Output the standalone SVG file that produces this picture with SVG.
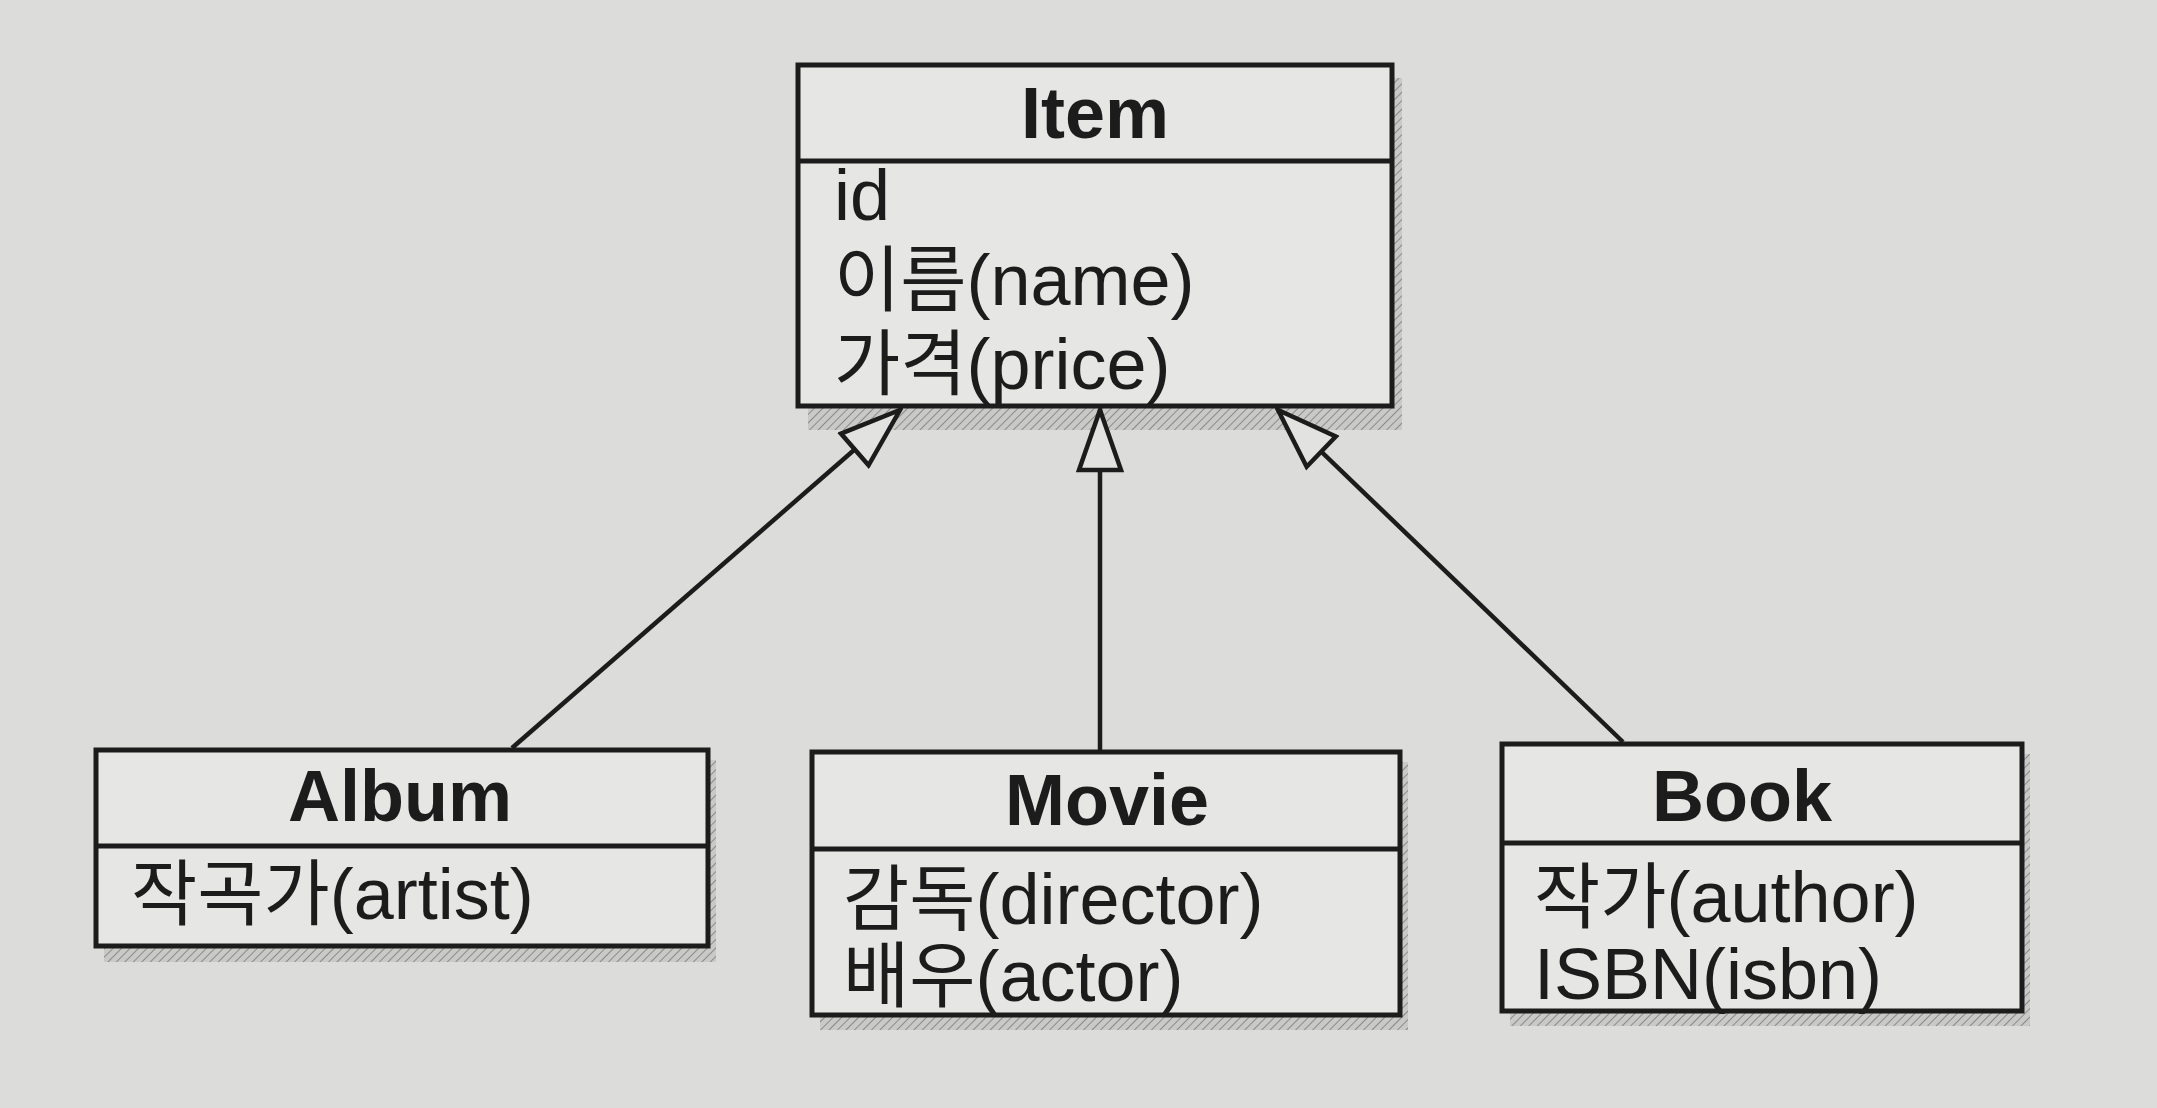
<svg xmlns="http://www.w3.org/2000/svg" width="2157" height="1108" viewBox="0 0 2157 1108">
<style>
.box{fill:#e6e6e4;stroke:#1c1c1c;stroke-width:5}
.div{stroke:#1c1c1c;stroke-width:5}
.shadow{fill:url(#hatch)}
.title{font-family:"Liberation Sans","Noto Sans CJK KR",sans-serif;font-weight:bold;font-size:72px;fill:#1c1c1c;text-anchor:middle}
.attr{font-family:"Liberation Sans","Noto Sans CJK KR",sans-serif;font-size:72px;fill:#1c1c1c}
.conn{stroke:#1c1c1c;stroke-width:4.5;fill:none;marker-end:url(#tri)}
</style>
<defs>
<pattern id="hatch" width="6" height="6" patternUnits="userSpaceOnUse" patternTransform="rotate(45)">
<rect width="6" height="6" fill="#c9c9c7"/>
<line x1="0" y1="0" x2="0" y2="6" stroke="#8a8a88" stroke-width="2"/>
</pattern>
<marker id="tri" viewBox="-3 -3 66 48" refX="60" refY="21" markerWidth="66" markerHeight="48" markerUnits="userSpaceOnUse" orient="auto">
<path d="M0,0 L60,21 L0,42 Z" fill="#e2e2e0" stroke="#1c1c1c" stroke-width="4.5" stroke-linejoin="miter"/>
</marker>
</defs>
<rect width="2157" height="1108" fill="#dcdcda"/>
<g id="item">
<rect class="shadow" x="808" y="78" width="594" height="352"/>
<rect class="box" x="798" y="65" width="594" height="341"/>
<line class="div" x1="798" y1="161" x2="1392" y2="161"/>
<text class="title" x="1095" y="138">Item</text>
<text class="attr" x="834" y="220">id</text>
<text class="attr" x="834" y="305">이름(name)</text>
<text class="attr" x="834" y="389">가격(price)</text>
</g>
<g id="album">
<rect class="shadow" x="104" y="760" width="612" height="202"/>
<rect class="box" x="96" y="750" width="612" height="196"/>
<line class="div" x1="96" y1="846" x2="708" y2="846"/>
<text class="title" x="400" y="821">Album</text>
<text class="attr" x="131" y="919">작곡가(artist)</text>
</g>
<g id="movie">
<rect class="shadow" x="820" y="762" width="588" height="268"/>
<rect class="box" x="812" y="752" width="588" height="263"/>
<line class="div" x1="812" y1="849" x2="1400" y2="849"/>
<text class="title" x="1107" y="825">Movie</text>
<text class="attr" x="843" y="924">감독(director)</text>
<text class="attr" x="843" y="1001">배우(actor)</text>
</g>
<g id="book">
<rect class="shadow" x="1510" y="754" width="520" height="272"/>
<rect class="box" x="1502" y="744" width="520" height="267"/>
<line class="div" x1="1502" y1="843" x2="2022" y2="843"/>
<text class="title" x="1742" y="821">Book</text>
<text class="attr" x="1534" y="922">작가(author)</text>
<text class="attr" x="1534" y="999">ISBN(isbn)</text>
</g>
<g id="connectors">
<line class="conn" x1="512" y1="748" x2="900" y2="410"/>
<line class="conn" x1="1100" y1="750" x2="1100" y2="410"/>
<line class="conn" x1="1623" y1="742" x2="1278" y2="410"/>
</g>
</svg>
